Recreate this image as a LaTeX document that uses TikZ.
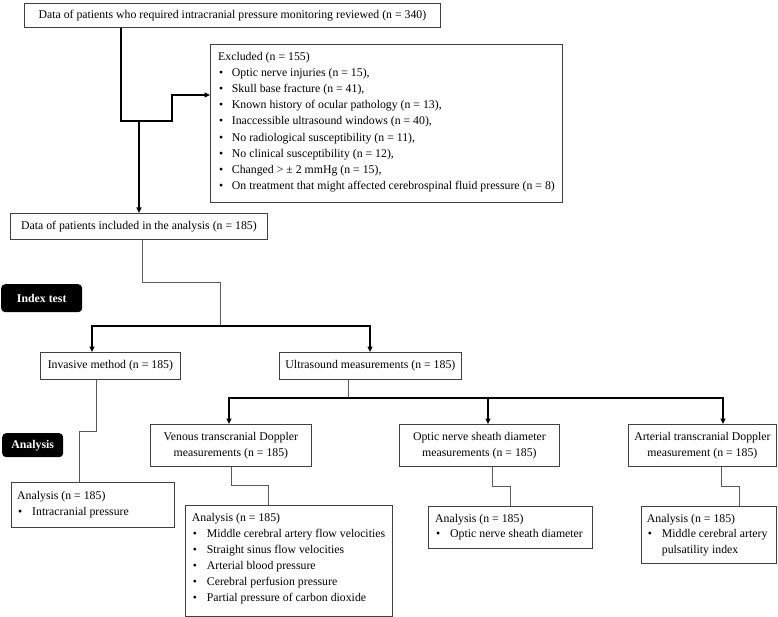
\documentclass[tikz,border=0pt]{standalone}
\usepackage{fontspec}
\setmainfont{Liberation Serif}
\usetikzlibrary{arrows.meta}
\definecolor{boxgray}{HTML}{404040}
\definecolor{linegray}{HTML}{5A5A5A}
\newcommand\fs{\fontsize{11.8}{15.6}\selectfont}
\newcommand\bul[1][15pt]{\makebox[#1][l]{\hspace{1pt}\textbullet}}
\begin{document}
\begin{tikzpicture}[x=1pt,y=1pt,
  box/.style={draw=boxgray, line width=0.8pt, inner sep=0pt, anchor=north west, fill=white, font=\fs, align=center},
  ln/.style={anchor=base west, inner sep=0pt, font=\fs},
  thinline/.style={draw=linegray, line width=0.8pt},
  boldline/.style={draw=black, line width=1.4pt},
  arr/.style={-{Triangle[length=5.5pt,width=5pt]}},
  tag/.style={fill=black, rounded corners=4pt, text=white, font=\bfseries\fs, inner sep=0pt, anchor=north west}]
\useasboundingbox (0,0) rectangle (778,-617);

% boxes
\node[box, minimum width=416pt, minimum height=24pt] (top) at (24,-3) {Data of patients who required intracranial pressure monitoring reviewed (n = 340)};
\node[box, minimum width=352pt, minimum height=158pt] (excl) at (210,-44) {};
\node[box, minimum width=257pt, minimum height=26pt] (incl) at (10,-213) {Data of patients included in the analysis (n = 185)};
\node[tag, minimum width=81pt, minimum height=28pt] (tagindex) at (1,-284) {Index test};
\node[box, minimum width=140pt, minimum height=27pt] (inv) at (40,-352) {Invasive method (n = 185)};
\node[box, minimum width=182pt, minimum height=27pt] (us) at (279,-352) {Ultrasound measurements (n = 185)};
\node[tag, minimum width=61pt, minimum height=24pt] (taganal) at (2,-433) {Analysis};
\node[box, minimum width=161pt, minimum height=42pt] (ven) at (150,-424) {Venous transcranial Doppler\\measurements (n = 185)};
\node[box, minimum width=160pt, minimum height=42pt] (onsd) at (399,-424) {Optic nerve sheath diameter\\measurements (n = 185)};
\node[box, minimum width=148pt, minimum height=42pt] (art) at (628,-424) {Arterial transcranial Doppler\\measurement (n = 185)};
\node[box, minimum width=163pt, minimum height=45pt] (an1) at (11,-482) {};
\node[box, minimum width=207pt, minimum height=111pt] (an2) at (185,-505) {};
\node[box, minimum width=164pt, minimum height=42pt] (an3) at (428,-506) {};
\node[box, minimum width=135pt, minimum height=57pt] (an4) at (641,-506) {};

% excluded text
\node[ln] (extitle) at (218,-60.5) {Excluded (n = 155)};
\foreach \t [count=\i from 0] in {{Optic nerve injuries (n = 15),},{Skull base fracture (n = 41),},{Known history of ocular pathology (n = 13),},{Inaccessible ultrasound windows (n = 40),},{No radiological susceptibility (n = 11),},{No clinical susceptibility (n = 12),},{Changed > ± 2 mmHg (n = 15),},{On treatment that might affected cerebrospinal fluid pressure (n = 8)}}
  \node[ln] (ex\i) at (218,{-76.3-16.2*\i}) {\bul[13.7pt]\t};

% analysis texts
\node[ln] (an1t) at (17,-499) {Analysis (n = 185)};
\node[ln] (an1a) at (17,-515.7) {\bul Intracranial pressure};

\node[ln] (an2t) at (191.7,-521.3) {Analysis (n = 185)};
\foreach \t [count=\i from 0] in {{Middle cerebral artery flow velocities},{Straight sinus flow velocities},{Arterial blood pressure},{Cerebral perfusion pressure},{Partial pressure of carbon dioxide}}
  \node[ln] (an2\i) at (191.7,{-537-16.2*\i}) {\bul\t};

\node[ln] (an3t) at (435,-522.3) {Analysis (n = 185)};
\node[ln] (an3a) at (435,-537.3) {\bul Optic nerve sheath diameter};

\node[ln] (an4t) at (646.7,-522.3) {Analysis (n = 185)};
\node[ln] (an4a) at (646.7,-537.3) {\bul Middle cerebral artery};
\node[ln] (an4b) at (661.7,-553.3) {pulsatility index};

% connectors
\coordinate (j1) at (121,-121);
\coordinate (j2) at (172,-121);
\coordinate (j3) at (139,-121);
\coordinate (exin) at (210,-95);
\draw[boldline,arr] (top.south -| j1) -- (j1) -- (j2) |- (exin);
\draw[boldline,arr] (j3) -- (j3 |- incl.north);

\coordinate (k1) at (142,-282);
\coordinate (k2) at (220,-282);
\coordinate (k3) at (220,-326);
\draw[thinline] (incl.south -| k1) -- (k1) -- (k2) -- (k3);
\coordinate (s1) at (92,-326);
\coordinate (s2) at (370,-326);
\draw[boldline,arr] (k3) -- (s1) -- (s1 |- inv.north);
\draw[boldline,arr] (k3) -- (s2) -- (s2 |- us.north);

\coordinate (u1) at (348,-398);
\draw[thinline] (us.south -| u1) -- (u1);
\coordinate (v1) at (229,-398);
\coordinate (v2) at (488,-398);
\coordinate (v3) at (723,-398);
\draw[boldline,arr] (u1) -- (v1) -- (v1 |- ven.north);
\draw[boldline,arr] (u1) -- (v3) -- (v3 |- art.north);
\draw[boldline,arr] (v2) -- (v2 |- onsd.north);

\coordinate (i1) at (96,-431);
\coordinate (i2) at (79,-431);
\draw[thinline] (inv.south -| i1) -- (i1) -- (i2) -- (i2 |- an1.north);
\coordinate (a1) at (231,-485);
\coordinate (a2) at (268,-485);
\draw[thinline] (ven.south -| a1) -- (a1) -- (a2) -- (a2 |- an2.north);
\coordinate (b1) at (492,-486);
\coordinate (b2) at (510,-486);
\draw[thinline] (onsd.south -| b1) -- (b1) -- (b2) -- (b2 |- an3.north);
\coordinate (c1) at (721,-486);
\coordinate (c2) at (739,-486);
\draw[thinline] (art.south -| c1) -- (c1) -- (c2) -- (c2 |- an4.north);
\end{tikzpicture}
\end{document}
